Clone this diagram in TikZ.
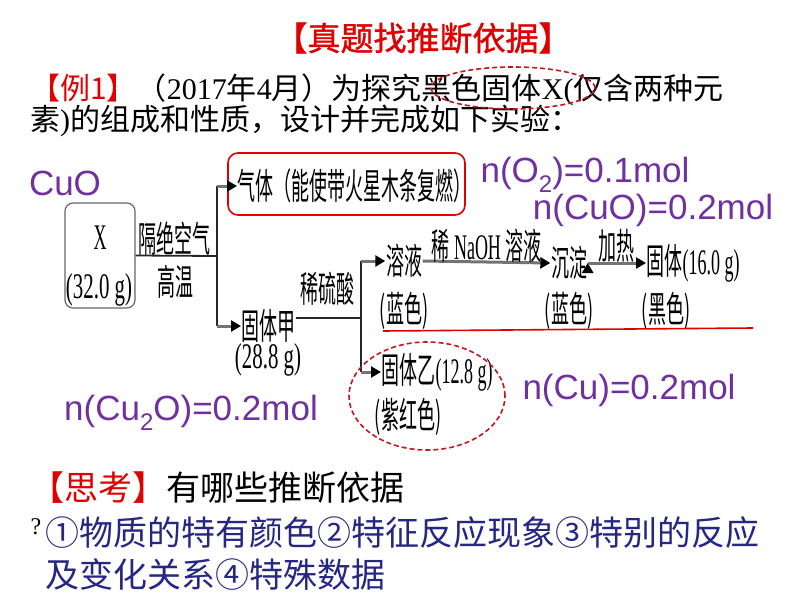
\documentclass[tikz,border=0pt]{standalone}
\usepackage{fontspec}
\setmainfont{Liberation Serif}
\newfontfamily\cjk{Noto Sans CJK SC}
\newfontfamily\cjkb[FakeBold=1.2]{Noto Sans CJK SC}
\newfontfamily\serif{Liberation Serif}
\newfontfamily\arial{Liberation Sans}
\usetikzlibrary{arrows.meta,positioning,shapes.geometric}
\definecolor{molpurple}{RGB}{112,48,160}
\definecolor{navytext}{RGB}{38,38,132}
\definecolor{hlred}{RGB}{225,0,0}
\definecolor{dashred}{RGB}{200,20,30}
\newcommand{\subtwo}{\raisebox{-0.28em}{\fontsize{24}{24}\selectfont 2}}
\newcommand{\nar}[1]{\scalebox{0.5}[1]{#1}}

\begin{document}
\begin{tikzpicture}[x=1pt,y=-1pt,
  lab/.style={inner sep=0.5pt, font=\cjk\fontsize{36}{36}\selectfont},
  mol/.style={inner sep=0pt, font=\arial\fontsize{35}{35}\selectfont, text=molpurple},
  line/.style={inner sep=0pt, anchor=west},
  ring/.style={ellipse, draw=dashred, line width=1.6pt, dash pattern=on 5pt off 3pt},
  xbox/.style={draw=black!60, line width=1.2pt, rounded corners=8pt},
  gasbox/.style={draw=hlred, line width=1.6pt, rounded corners=10pt},
  flow/.style={draw=black!85, line width=1.8pt},
  arr/.style={draw=black!55, line width=3pt, -{Triangle[length=10pt,width=11pt,color=black]}}]
  \useasboundingbox (0,0) rectangle (794,596);

  % heading and question
  \node[font=\cjkb\fontsize{33}{33}\selectfont, text=hlred] (title) at (423,38) {【真题找推断依据】};
  \node[line, font=\cjk\fontsize{30}{30}\selectfont] (ex_a) at (30,90)
    {\textcolor{hlred}{【例1】}（{\serif 2017}年{\serif 4}月）为探究黑色固体{\serif X(}仅含两种元};
  \node[line, font=\cjk\fontsize{30}{30}\selectfont] (ex_b) at (30,121) {素{\serif )}的组成和性质，设计并完成如下实验：};
  \node[ring, minimum width=164, minimum height=42] (ring_x) at (513,88) {};

  % flow chart
  \node[xbox, minimum width=70, minimum height=105] (x_box) at (100,255.5) {};
  \node[lab] (x_name) at (100,238) {\nar{\serif X}};
  \node[lab] (x_mass) at (99,290) {\scalebox{0.58}[1]{\serif (32.0 g)}};
  \coordinate (j1) at (217,256);
  \draw[flow] (x_box.east) -- (j1);
  \node[lab] (heat_a) at (174,239) {\nar{隔绝空气}};
  \node[lab] (heat_b) at (175,282) {\nar{高温}};

  \node[gasbox, minimum width=237, minimum height=62] (gas_box) at (346.5,184) {};
  \node[lab, anchor=west] (gas) at (237,186) {\nar{气体（能使带火星木条复燃）}};
  \node[lab, anchor=west] (jia) at (241,326) {\nar{固体甲}};
  \node[lab] (jia_m) at (268,360) {\scalebox{0.58}[1]{\serif (28.8 g)}};
  \draw[flow] (j1 |- gas.west) -- (j1 |- jia.west);
  \draw[arr] (j1 |- gas.west) -- (gas.west);
  \draw[arr] (j1 |- jia.west) -- (jia.west);

  \coordinate (j2) at (361,318);
  \draw[flow] (jia.east |- j2) -- (j2);
  \node[lab] (acid) at (327,289) {\nar{稀硫酸}};

  \node[lab] (sol) at (404,261) {\nar{溶液}};
  \node[lab] (sol_c) at (404,311) {\nar{(蓝色)}};
  \node[lab] (prec) at (569,263) {\nar{沉淀}};
  \node[lab] (prec_c) at (569,311) {\nar{(蓝色)}};
  \node[lab, anchor=west] (cuo_s) at (646,263) {\nar{固体{\serif (16.0 g)}}};
  \node[lab] (cuo_c) at (666,311) {\nar{(黑色)}};
  \node[lab, anchor=west] (yi) at (381,372) {\nar{固体乙{\serif (12.8 g)}}};
  \node[lab] (yi_c) at (408,417) {\nar{(紫红色)}};
  \draw[flow] (j2 |- sol.west) -- (j2 |- yi.west);
  \draw[arr] (j2 |- sol.west) -- (sol.west);
  \draw[arr] (j2 |- yi.west) -- (yi.west);
  \path[arr]
    (sol.east)  edge node[lab, above=-2pt] (naoh) {\nar{稀 {\serif NaOH} 溶液}} (prec.west)
    (prec.east) edge node[lab, above=-2pt] (heat) {\nar{加热}} (cuo_s.west);

  \draw[hlred, line width=1.6pt] (383,331) -- (753,328);
  \node[ring, minimum width=156, minimum height=108] (ring_yi) at (427,396) {};

  % moles
  \node[mol] (n_cuo0) at (65,183) {CuO};
  \node[mol] (n_o2) at (585,175) {n(O\subtwo)=0.1mol};
  \node[mol] (n_cuo) at (653,210) {n(CuO)=0.2mol};
  \node[mol] (n_cu) at (629,390) {n(Cu)=0.2mol};
  \node[mol] (n_cu2o) at (191,413) {n(Cu\subtwo O)=0.2mol};

  % thinking
  \node[line, font=\cjk\fontsize{34}{34}\selectfont] (think) at (30,488)
    {\textcolor{hlred}{【思考】}有哪些推断依据};
  \node[font=\serif\fontsize{24}{24}\selectfont] (qmark) at (36,527) {?};
  \node[line, text=navytext, font=\cjk\fontsize{34}{34}\selectfont] (basis_a) at (45,533)
    {①物质的特有颜色②特征反应现象③特别的反应};
  \node[line, text=navytext, font=\cjk\fontsize{34}{34}\selectfont] (basis_b) at (45,575)
    {及变化关系④特殊数据};
\end{tikzpicture}
\end{document}
